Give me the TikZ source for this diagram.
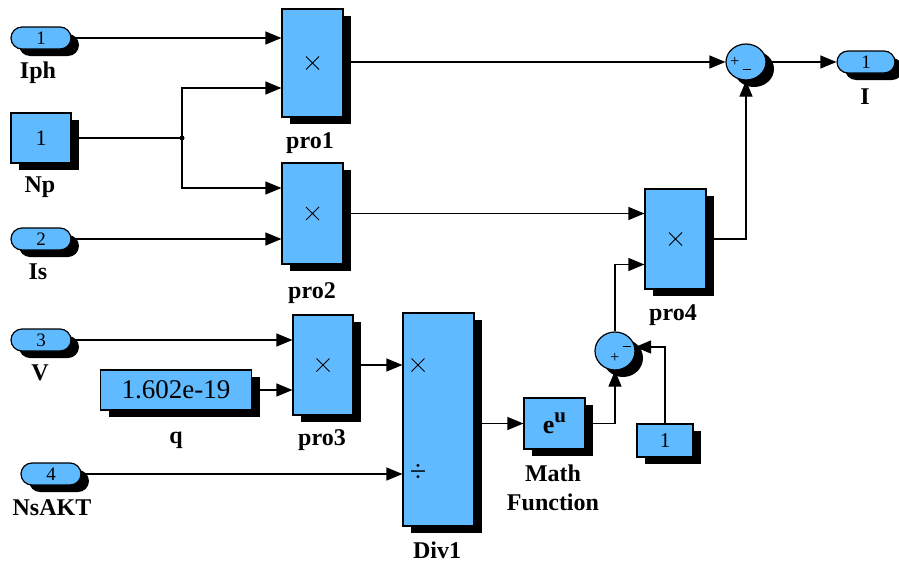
\documentclass[tikz,border=0pt]{standalone}
\usepackage{fontspec}
\setmainfont{Liberation Serif}
\usetikzlibrary{arrows.meta,shadows,calc,shapes.geometric}
\definecolor{blk}{RGB}{96,186,255}
\begin{document}
\begin{tikzpicture}[x=1pt,y=-1pt,
  blockshadow/.style={general shadow={fill=black, shadow xshift=8pt, shadow yshift=-7pt}},
  block/.style={draw, line width=1.2pt, fill=blk, inner sep=0pt, blockshadow},
  port/.style={block, rounded corners=11pt, minimum width=60pt, minimum height=22pt,
    font=\fontsize{19}{19}\selectfont},
  sumblk/.style={draw, ellipse, line width=1.2pt, fill=blk, inner sep=0pt,
    minimum width=40pt, minimum height=36pt, blockshadow},
  lbl/.style={font=\fontsize{24}{29}\selectfont\bfseries, align=center, inner sep=0pt},
  sym/.style={font=\fontsize{30}{30}\selectfont, inner sep=0pt},
  sgn/.style={font=\fontsize{16}{16}\selectfont, inner sep=0pt},
  wire/.style={line width=1.2pt, -{Triangle[length=16pt,width=13pt]}},
  plain/.style={line width=1.2pt},
  cross/.pic={\draw[line width=0.8pt] (-6.5,-6.5) -- (6.5,6.5) (-6.5,6.5) -- (6.5,-6.5);},
]
\useasboundingbox[fill=white] (0,0) rectangle (899,565);

% sources
\node[port] (Iph) at (41,38) {1};
\node[block, minimum width=60pt, minimum height=50pt, font=\fontsize{22}{22}\selectfont] (Np) at (41,138) {1};
\node[port] (Is) at (41,239) {2};
\node[port] (V) at (41,340) {3};
\node[block, minimum width=151pt, minimum height=40pt, font=\fontsize{27}{27}\selectfont] (q) at (176,390) {1.602e-19};
\node[port] (NsAKT) at (51,474) {4};

% products
\node[block, minimum width=61pt, minimum height=108pt] (pro1) at (312.5,63) {};
\node[block, minimum width=61pt, minimum height=101pt] (pro2) at (312.5,213.5) {};
\node[block, minimum width=60pt, minimum height=100pt] (pro3) at (323,365) {};
\node[block, minimum width=71pt, minimum height=213pt] (Div1) at (438.5,419.5) {};
\node[block, minimum width=61pt, minimum height=100pt] (pro4) at (675.5,239) {};
\node[block, minimum width=61pt, minimum height=51pt, font=\fontsize{26}{26}\selectfont\bfseries] (math) at (554.5,423.5) {e\raisebox{0.42em}{\fontsize{21}{21}\selectfont u}};
\node[block, minimum width=56pt, minimum height=33pt, font=\fontsize{21}{21}\selectfont] (one) at (665,440.5) {1};

% sums
\node[sumblk] (sum1) at (746,62) {};
\node[sumblk, minimum height=38pt] (sum2) at (615,351) {};
\node[port, minimum width=58pt] (I) at (866,62) {1};

% operator marks
\pic at (pro1) {cross};
\pic at (pro2) {cross};
\pic at (pro3) {cross};
\pic at (pro4) {cross};
\pic at (418,365) {cross};
\node[sym] at (418,473) {÷};
\node[sgn] at (735,62) {+};
\draw[line width=0.9pt] (743,69) -- (751,69);
\node[sgn] at (615,358) {+};
\draw[line width=0.9pt] (623,346) -- (631,346);

% labels
\node[lbl] at (38,73) {Iph};
\node[lbl] at (40,187) {Np};
\node[lbl] at (38,272) {Is};
\node[lbl] at (40,373) {V};
\node[lbl] at (176,440) {q};
\node[lbl] at (52,508) {NsAKT};
\node[lbl] at (310,143) {pro1};
\node[lbl] at (312,293) {pro2};
\node[lbl] at (322,440) {pro3};
\node[lbl] at (673,315) {pro4};
\node[lbl] at (437,550) {Div1};
\node[lbl] at (553,488) {Math\\Function};
\node[lbl] at (865,97) {I};

% input ports
\coordinate (pro1a) at ($(pro1.west)+(0,-25)$);
\coordinate (pro1b) at ($(pro1.west)+(0,25)$);
\coordinate (pro2a) at ($(pro2.west)+(0,-25.5)$);
\coordinate (pro2b) at ($(pro2.west)+(0,25.5)$);
\coordinate (pro3a) at ($(pro3.west)+(0,-25)$);
\coordinate (pro3b) at ($(pro3.west)+(0,25)$);
\coordinate (pro4a) at ($(pro4.west)+(0,-25.5)$);
\coordinate (pro4b) at ($(pro4.west)+(0,25.5)$);
\coordinate (div1a) at (Div1.west |- pro3.east);
\coordinate (div1b) at (Div1.west |- NsAKT.east);
\coordinate (sum2in) at ($(sum2.east)+(-0.5,-4)$);
\coordinate (j) at (182,138);

% connectors
\draw[wire] (Iph.east) -- (pro1a);
\draw[plain] (Np.east) -- (j);
\fill (j) circle (2.5pt);
\draw[wire] (j) |- (pro1b);
\draw[wire] (j) |- (pro2a);
\draw[wire] (Is.east) -- (pro2b);
\draw[wire] (pro1.east |- sum1.west) -- (sum1.west);
\draw[wire] (pro2.east) -- (pro4a);
\draw[wire] (pro4.east) -| (sum1.south);
\draw[wire] (sum1.east) -- (I.west);
\draw[wire] (V.east) -- (pro3a);
\draw[wire] (q.east) -- (pro3b);
\draw[wire] (pro3.east) -- (div1a);
\draw[wire] (NsAKT.east) -- (div1b);
\draw[wire] (Div1.east |- math.west) -- (math.west);
\draw[wire] (math.east) -| (sum2.south);
\draw[wire] (one.north) |- (sum2in);
\draw[wire] (sum2.north) |- (pro4b);
\end{tikzpicture}
\end{document}
